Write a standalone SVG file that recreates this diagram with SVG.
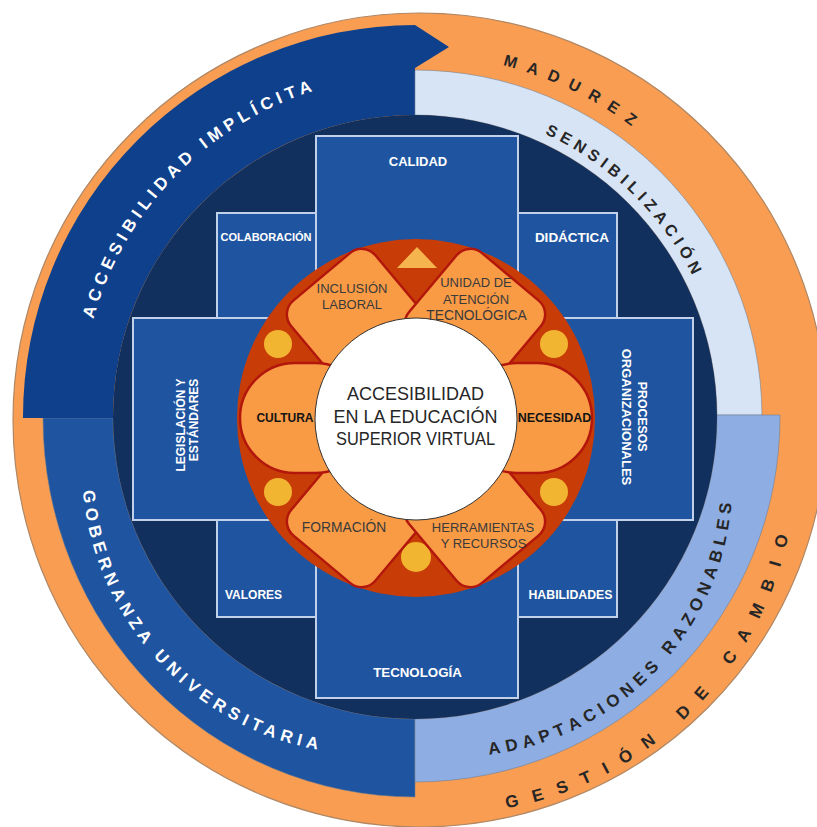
<svg xmlns="http://www.w3.org/2000/svg" width="817" height="827" viewBox="0 0 817 827">
  <defs>
    <style>
      .box{fill:#1f55a0;stroke:#c2d1ea;stroke-width:2}
      .bl{font-family:'Liberation Sans',Arial,sans-serif;font-weight:bold;fill:#ffffff;text-anchor:middle}
      .pt{font-family:'Liberation Sans',Arial,sans-serif;fill:#3a3a3a;text-anchor:middle;font-size:13px}
      .pb{font-family:'Liberation Sans',Arial,sans-serif;font-weight:bold;fill:#151515;text-anchor:middle}
      .ct{font-family:'Liberation Sans',Arial,sans-serif;fill:#262626;text-anchor:middle;font-size:18px}
      .petal{fill:#f99a45;stroke:#b3170c;stroke-width:2.5}
      .dot{fill:#f1b532}
      .band{stroke:#6f7d90;stroke-width:1;stroke-opacity:0.55}
      .arcw{font-family:'Liberation Sans',Arial,sans-serif;font-weight:bold;fill:#ffffff;font-size:17px}
      .arcd{font-family:'Liberation Sans',Arial,sans-serif;font-weight:bold;fill:#262626;font-size:16px}
      .arcd17{font-family:'Liberation Sans',Arial,sans-serif;font-weight:bold;fill:#262626;font-size:17px}
    </style>
    <!-- baselines for the curved ring labels -->
    <path id="arc-implicita" d="M93.3,319.2 A334,334 0 0 1 385.9,76.3"/>
    <path id="arc-madurez" d="M502.7,65.3 A362.5,362.5 0 0 1 728.9,235.8"/>
    <path id="arc-sensib" d="M544.7,133.8 A311.5,311.5 0 0 1 715.9,336.4"/>
    <path id="arc-gestion" d="M506.5,808.3 A353.7,353.7 0 0 0 795.1,491.2"/>
    <path id="arc-adapt" d="M489.2,754.5 A276.5,276.5 0 0 0 728.3,432"/>
    <path id="arc-gober" d="M82.9,490.8 A289.1,289.1 0 0 0 396.1,753.6"/>
  </defs>

  <!-- outer rings -->
  <g id="rings">
    <circle cx="420" cy="420" r="407" fill="#f99d52" stroke="#b08763" stroke-width="1.2"/>
    <path id="band-gobernanza" class="band" fill="#1f54a0" d="M43,418 A372,379 0 0 0 415,797 L415,719 A302,302 0 0 1 113,418 Z"/>
    <path id="band-implicita" fill="#0f408c" d="M23,418 A392,392 0 0 1 415,25 L449,47 L415,68 L415,115 A302,302 0 0 0 113,418 Z"/>
    <path id="band-sensibilizacion" class="band" fill="#d7e4f5" d="M415,70 A347,347 0 0 1 762,415 L717,415 A302,302 0 0 0 415,115 Z"/>
    <path id="band-adaptaciones" class="band" fill="#8dade3" d="M717,415 L780,415 A365,365 0 0 1 415,782 L415,719 A302,302 0 0 0 717,415 Z"/>
    <circle cx="415" cy="417" r="302" fill="#11305e"/>
  </g>

  <!-- ring labels, set in short runs along their arcs -->
  <g id="label-implicita" class="arcw" letter-spacing="4.9">
    <text><textPath href="#arc-implicita">ACCESIBILIDAD</textPath></text>
    <text><textPath href="#arc-implicita" startOffset="206.5">IMPLÍCITA</textPath></text>
  </g>
  <g id="label-madurez" class="arcd" letter-spacing="10.6">
    <text><textPath href="#arc-madurez">MADUR</textPath></text>
    <text><textPath href="#arc-madurez" startOffset="112.5">EZ</textPath></text>
  </g>
  <g id="label-sensibilizacion" class="arcd" letter-spacing="4.9">
    <text><textPath href="#arc-sensib">SEN</textPath></text>
    <text><textPath href="#arc-sensib" startOffset="47.6">SIBILI</textPath></text>
    <text><textPath href="#arc-sensib" startOffset="122.3">ZACIÓN</textPath></text>
  </g>
  <!-- widely spaced word: one glyph per run -->
  <g id="label-gestion" class="arcd17" letter-spacing="0">
    <text><textPath href="#arc-gestion">G</textPath></text>
    <text><textPath href="#arc-gestion" startOffset="28">E</textPath></text>
    <text><textPath href="#arc-gestion" startOffset="54.2">S</textPath></text>
    <text><textPath href="#arc-gestion" startOffset="80.3">T</textPath></text>
    <text><textPath href="#arc-gestion" startOffset="105.5">I</textPath></text>
    <text><textPath href="#arc-gestion" startOffset="125">Ó</textPath></text>
    <text><textPath href="#arc-gestion" startOffset="153">N</textPath></text>
    <text letter-spacing="14.8"><textPath href="#arc-gestion" startOffset="199.6">DE</textPath></text>
    <text letter-spacing="14.8"><textPath href="#arc-gestion" startOffset="272.4">CAM</textPath></text>
    <text letter-spacing="14.8"><textPath href="#arc-gestion" startOffset="355.5">BIO</textPath></text>
  </g>
  <g id="label-adaptaciones" class="arcd17" letter-spacing="5.4">
    <text><textPath href="#arc-adapt">ADAPT</textPath></text>
    <text><textPath href="#arc-adapt" startOffset="85.5">ACIO</textPath></text>
    <text><textPath href="#arc-adapt" startOffset="149.6">NES</textPath></text>
    <text><textPath href="#arc-adapt" startOffset="210.9">RAZ</textPath></text>
    <text><textPath href="#arc-adapt" startOffset="262.1">ONA</textPath></text>
    <text><textPath href="#arc-adapt" startOffset="316">BLES</textPath></text>
  </g>
  <g id="label-gobernanza" class="arcw" letter-spacing="5.1">
    <text><textPath href="#arc-gober">GOBERNANZA</textPath></text>
    <text><textPath href="#arc-gober" startOffset="182.6">UNIVERSITARIA</textPath></text>
  </g>

  <!-- blue cross of boxes -->
  <g id="boxes">
    <rect class="box" x="133" y="318" width="560" height="202"/>
    <rect class="box" x="316" y="136" width="202" height="562"/>
    <rect class="box" x="217" y="213" width="99" height="105"/>
    <rect class="box" x="518" y="213" width="99" height="105"/>
    <rect class="box" x="217" y="520" width="99" height="97"/>
    <rect class="box" x="518" y="520" width="99" height="97"/>
  </g>
  <g id="box-calidad"><text class="bl" x="418" y="166" font-size="13">CALIDAD</text></g>
  <g id="box-colaboracion"><text class="bl" x="266" y="240.5" font-size="11">COLABORACIÓN</text></g>
  <g id="box-didactica"><text class="bl" x="572" y="242" font-size="13.5">DIDÁCTICA</text></g>
  <g id="box-valores"><text class="bl" x="253.5" y="599" font-size="12">VALORES</text></g>
  <g id="box-habilidades"><text class="bl" x="570.5" y="599" font-size="12.3">HABILIDADES</text></g>
  <g id="box-tecnologia"><text class="bl" x="417.5" y="677" font-size="13.3">TECNOLOGÍA</text></g>
  <g id="box-legislacion">
    <text class="bl" font-size="12" transform="translate(185,425) rotate(-90)">LEGISLACIÓN Y</text>
    <text class="bl" font-size="12" transform="translate(198.3,420) rotate(-90)">ESTÁNDARES</text>
  </g>
  <g id="box-procesos">
    <text class="bl" font-size="12.3" transform="translate(638.3,416.7) rotate(90)">PROCESOS</text>
    <text class="bl" font-size="13" transform="translate(621.7,417) rotate(90)">ORGANIZACIONALES</text>
  </g>

  <!-- central flower -->
  <g id="flower">
    <circle cx="416" cy="418" r="179" fill="#c83c08"/>
    <polygon points="397,268 437,268 417,247" fill="#f6b44f"/>
    <circle class="dot" cx="278" cy="344" r="14"/>
    <circle class="dot" cx="554" cy="344" r="14"/>
    <circle class="dot" cx="278" cy="492" r="14"/>
    <circle class="dot" cx="554" cy="492" r="14"/>
    <circle class="dot" cx="416" cy="557" r="15"/>
  </g>
  <g id="petal-inclusion">
    <rect class="petal" x="-55" y="-55" width="110" height="110" rx="18" transform="translate(357,319) rotate(-40)"/>
  </g>
  <g id="petal-unidad">
    <rect class="petal" x="-55" y="-55" width="110" height="110" rx="18" transform="translate(475,319) rotate(40)"/>
  </g>
  <g id="petal-formacion">
    <rect class="petal" x="-55" y="-55" width="110" height="110" rx="18" transform="translate(357,517) rotate(40)"/>
  </g>
  <g id="petal-herramientas">
    <rect class="petal" x="-55" y="-55" width="110" height="110" rx="18" transform="translate(475,517) rotate(-40)"/>
  </g>
  <g id="petal-cultura">
    <rect class="petal" x="240" y="363" width="130" height="110" rx="55"/>
  </g>
  <g id="petal-necesidad">
    <rect class="petal" x="462" y="363" width="130" height="110" rx="55"/>
  </g>

  <g id="center">
    <circle cx="416" cy="419" r="101" fill="#ffffff" stroke="#333333" stroke-width="1"/>
    <text class="ct" x="415.5" y="400">ACCESIBILIDAD</text>
    <text class="ct" x="415.5" y="423.3">EN LA EDUCACIÓN</text>
    <text class="ct" x="415.5" y="445" textLength="159" lengthAdjust="spacingAndGlyphs">SUPERIOR VIRTUAL</text>
  </g>

  <g id="petal-labels">
    <text class="pt" x="352" y="292.7">INCLUSIÓN</text>
    <text class="pt" x="352" y="308.7">LABORAL</text>
    <text class="pt" x="476" y="287">UNIDAD DE</text>
    <text class="pt" x="476" y="303.5">ATENCIÓN</text>
    <text class="pt" x="476.5" y="320" style="font-size:13.8px">TECNOLÓGICA</text>
    <text class="pt" x="344" y="532" style="font-size:13.8px">FORMACIÓN</text>
    <text class="pt" x="483" y="531.7">HERRAMIENTAS</text>
    <text class="pt" x="483.5" y="548">Y RECURSOS</text>
    <text class="pb" x="285" y="422" font-size="12">CULTURA</text>
    <text class="pb" x="554.5" y="421.7" font-size="12.5">NECESIDAD</text>
  </g>
</svg>
